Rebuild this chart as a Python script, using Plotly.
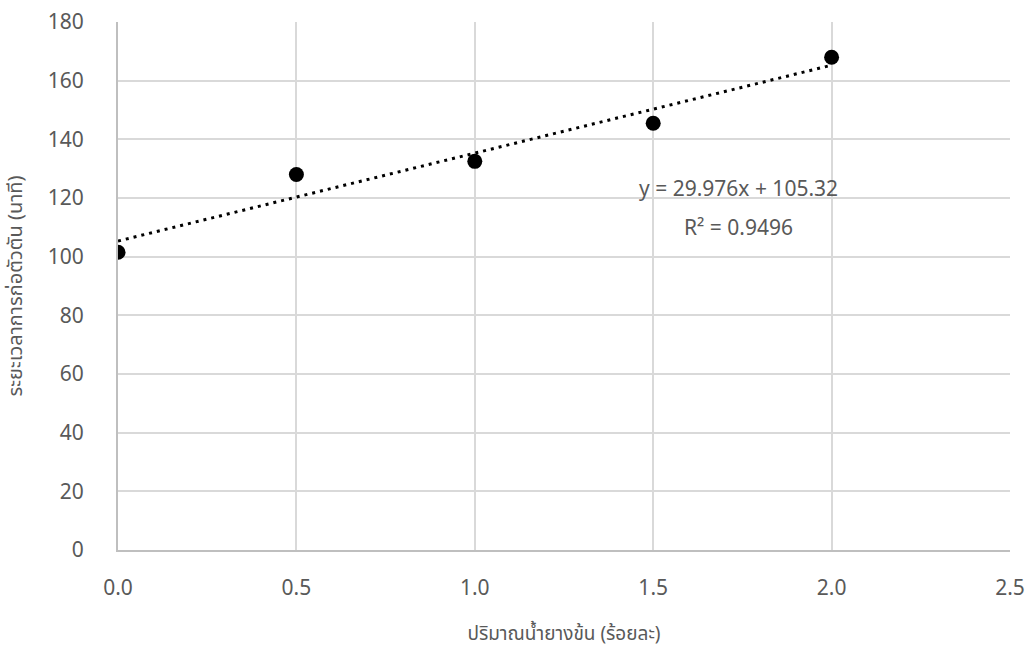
import plotly.graph_objects as go

# Data
conc_percent = [0.0, 0.5, 1.0, 1.5, 2.0]
time_minutes = [101.5, 128.0, 132.5, 145.5, 168.0]
trend_slope = 29.976
trend_intercept = 105.32
r_squared = 0.9496
x_ticks = [0.0, 0.5, 1.0, 1.5, 2.0, 2.5]
y_ticks = [0, 20, 40, 60, 80, 100, 120, 140, 160, 180]

x_title = "ปริมาณน้ำยางข้น (ร้อยละ)"
y_title = "ระยะเวลาการก่อตัวตัน (นาที)"

trend_x = [min(conc_percent), max(conc_percent)]
trend_y = [trend_intercept + trend_slope * v for v in trend_x]

FONT = "Noto Sans, Noto Sans Thai, Loma, DejaVu Sans, sans-serif"
GRAY = "#595959"

fig = go.Figure()
fig.add_trace(go.Scatter(
    x=trend_x, y=trend_y, mode="lines",
    line=dict(color="black", width=3, dash="3px,5px"),
    hoverinfo="skip", showlegend=False,
))
fig.add_trace(go.Scatter(
    x=conc_percent, y=time_minutes, mode="markers",
    marker=dict(color="black", size=15),
    showlegend=False,
))

fig.add_annotation(
    x=1.74, y=123.5, xref="x", yref="y",
    text=f"y = {trend_slope}x + {trend_intercept}",
    showarrow=False, font=dict(family=FONT, size=21, color=GRAY),
)
fig.add_annotation(
    x=1.74, y=110, xref="x", yref="y",
    text=f"R² = {r_squared}",
    showarrow=False, font=dict(family=FONT, size=21, color=GRAY),
)

fig.update_layout(
    width=1029, height=653,
    margin=dict(l=118, r=19, t=22, b=103),
    paper_bgcolor="white", plot_bgcolor="white",
    font=dict(family=FONT, size=21, color=GRAY),
    xaxis=dict(
        range=[0, 2.5], tickvals=x_ticks, tickformat=".1f",
        automargin=False,
        showgrid=True, gridcolor="#d9d9d9", gridwidth=2,
        showline=True, linecolor="#bfbfbf", linewidth=2,
        zeroline=False,
        ticks="outside", ticklen=18, tickcolor="rgba(0,0,0,0)",
        title=dict(text=x_title, font=dict(size=19, color=GRAY), standoff=26),
    ),
    yaxis=dict(
        range=[0, 180], tickvals=y_ticks,
        automargin=False,
        showgrid=True, gridcolor="#d9d9d9", gridwidth=2,
        showline=True, linecolor="#bfbfbf", linewidth=2,
        zeroline=False,
        ticks="outside", ticklen=28, tickcolor="rgba(0,0,0,0)",
        title=dict(text=y_title, font=dict(size=20, color=GRAY), standoff=20),
    ),
)

fig.write_html(
    "out.html",
    config={"displayModeBar": False},
    post_script="document.body.style.margin='0';document.documentElement.style.overflow='hidden';document.body.style.overflow='hidden';",
)
